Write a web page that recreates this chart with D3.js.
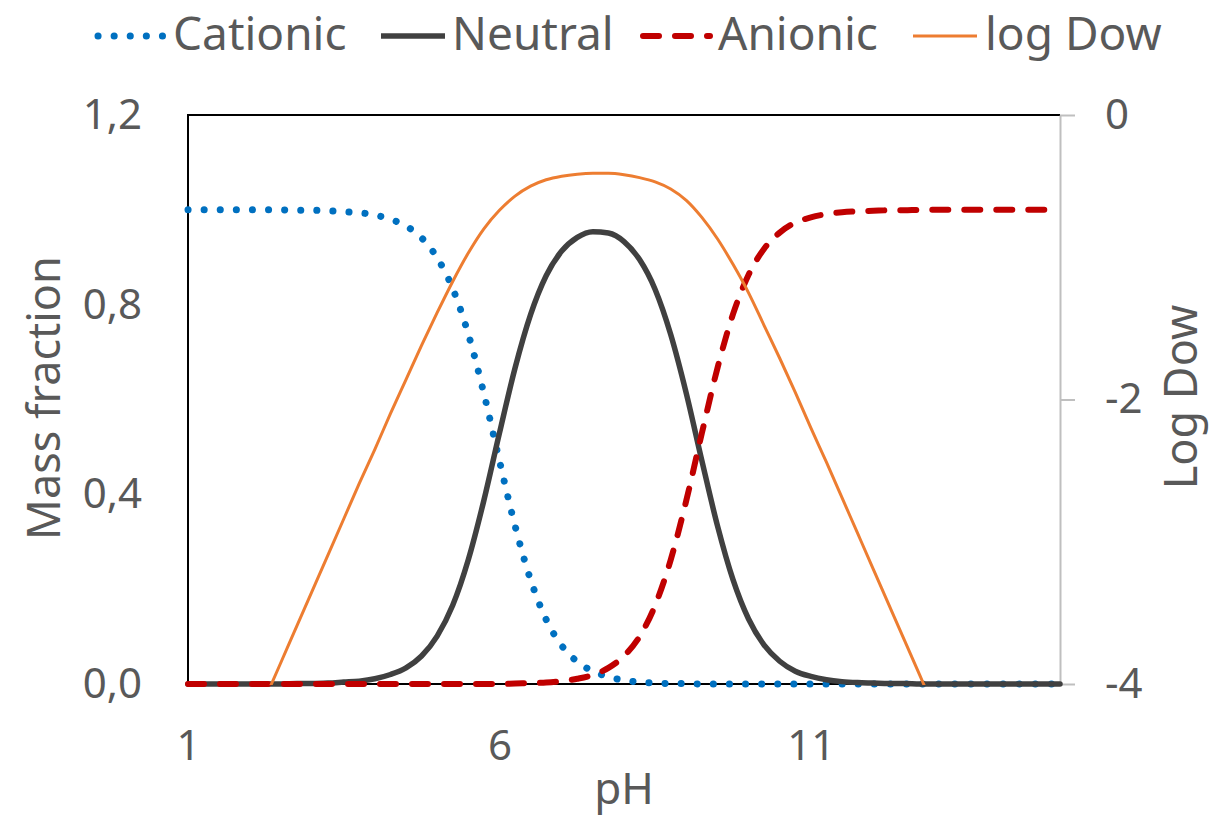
<!DOCTYPE html>
<html>
<head>
<meta charset="utf-8">
<script src="https://cdn.jsdelivr.net/npm/d3@7"></script>
<style>
  body { margin: 0; background: #fff; }
  text { font-family: "Noto Sans", sans-serif; fill: #595959; }
</style>
</head>
<body>
<svg id="chart" width="1212" height="818"></svg>
<script>
// Data (pH 1 to 15 in steps of 0.25)
var pH = [1, 1.25, 1.5, 1.75, 2, 2.25, 2.5, 2.75, 3, 3.25, 3.5, 3.75, 4, 4.25, 4.5, 4.75,
  5, 5.25, 5.5, 5.75, 6, 6.25, 6.5, 6.75, 7, 7.25, 7.5, 7.75, 8, 8.25, 8.5, 8.75,
  9, 9.25, 9.5, 9.75, 10, 10.25, 10.5, 10.75, 11, 11.25, 11.5, 11.75, 12, 12.25, 12.5, 12.75,
  13, 13.25, 13.5, 13.75, 14, 14.25, 14.5, 14.75, 15];

var cationic = [1, 1, 1, 1, 1, 1, 1, 0.999, 0.999, 0.998, 0.996, 0.994, 0.989, 0.980, 0.966, 0.941,
  0.899, 0.834, 0.738, 0.613, 0.471, 0.334, 0.220, 0.136, 0.081, 0.047, 0.027, 0.015, 0.008, 0.004, 0.002, 0.001,
  0.001, 0, 0, 0, 0, 0, 0, 0, 0, 0, 0, 0, 0, 0, 0, 0,
  0, 0, 0, 0, 0, 0, 0, 0, 0];

var neutral = [0, 0, 0, 0, 0, 0, 0, 0.001, 0.001, 0.002, 0.004, 0.006, 0.011, 0.020, 0.034, 0.059,
  0.101, 0.166, 0.262, 0.387, 0.529, 0.666, 0.779, 0.861, 0.913, 0.942, 0.954, 0.951, 0.933, 0.895, 0.832, 0.737,
  0.613, 0.471, 0.334, 0.220, 0.137, 0.082, 0.048, 0.027, 0.016, 0.009, 0.005, 0.003, 0.002, 0.001, 0.001, 0,
  0, 0, 0, 0, 0, 0, 0, 0, 0];

var anionic = [0, 0, 0, 0, 0, 0, 0, 0, 0, 0, 0, 0, 0, 0, 0, 0,
  0, 0, 0, 0, 0, 0.001, 0.002, 0.003, 0.006, 0.011, 0.019, 0.034, 0.059, 0.100, 0.166, 0.262,
  0.387, 0.529, 0.666, 0.780, 0.863, 0.918, 0.952, 0.973, 0.984, 0.991, 0.995, 0.997, 0.998, 0.999, 0.999, 1,
  1, 1, 1, 1, 1, 1, 1, 1, 1];

var logDow = [-5.34, -5.09, -4.84, -4.59, -4.34, -4.09, -3.84, -3.59, -3.34, -3.09, -2.84, -2.59, -2.35, -2.10, -1.86, -1.62,
  -1.39, -1.17, -0.97, -0.80, -0.67, -0.57, -0.50, -0.455, -0.43, -0.416, -0.41, -0.41, -0.42, -0.44, -0.47, -0.52,
  -0.60, -0.72, -0.87, -1.05, -1.25, -1.48, -1.71, -1.95, -2.20, -2.44, -2.69, -2.94, -3.19, -3.44, -3.69, -3.94,
  -4.19, -4.44, -4.69, -4.94, -5.19, -5.44, -5.69, -5.94, -6.19];

// Ticks
var xTicks = [1, 6, 11];
var leftTicks = [0, 0.4, 0.8, 1.2];
var rightTicks = [-4, -2, 0];

// Series styles
var series = [
  { name: "Cationic", values: cationic, axis: "left", color: "#0070c0", width: 7, dash: "0.1 16" },
  { name: "Neutral", values: neutral, axis: "left", color: "#404040", width: 5.5, dash: null },
  { name: "Anionic", values: anionic, axis: "left", color: "#c00000", width: 6, dash: "16 16" },
  { name: "log Dow", values: logDow, axis: "right", color: "#ed7d31", width: 3, dash: null }
];

// Plot area
var p = { left: 188, right: 1060, top: 115, bottom: 684 };

var x = d3.scaleLinear().domain([1, 15]).range([p.left, p.right]);
var yL = d3.scaleLinear().domain([0, 1.2]).range([p.bottom, p.top]);
var yR = d3.scaleLinear().domain([-4, 0]).range([p.bottom, p.top]);

var svg = d3.select("#chart");

function comma(d) { return d3.format(".1f")(d).replace(".", ","); }
function plain(d) { return String(d); }

// Clip for the secondary series
svg.append("clipPath")
  .attr("id", "clipR")
  .append("rect")
  .attr("x", p.left)
  .attr("y", p.top)
  .attr("width", p.right - p.left)
  .attr("height", p.bottom - p.top + 1)
  ;

// Plot border (left, top, bottom in black)
svg.append("path")
  .attr("d", "M" + p.right + "," + p.top + "H" + p.left + "V" + p.bottom + "H" + (p.right + 2))
  .style("fill", "none")
  .style("stroke", "#000")
  .style("stroke-width", 2)
  ;

// Left axis
var gL = svg.append("g")
  .attr("transform", "translate(" + p.left + ",0)")
  .call(d3.axisLeft(yL).tickValues(leftTicks).tickFormat(comma).tickSize(0).tickPadding(46));
gL.select(".domain").remove();

// Bottom axis
var gB = svg.append("g")
  .attr("transform", "translate(0," + p.bottom + ")")
  .call(d3.axisBottom(x).tickValues(xTicks).tickFormat(plain).tickSize(0).tickPadding(46));
gB.select(".domain").remove();

// Right axis (gray)
var gR = svg.append("g")
  .attr("transform", "translate(" + p.right + ",0)")
  .call(d3.axisRight(yR).tickValues(rightTicks).tickFormat(plain).tickSizeInner(15).tickSizeOuter(0).tickPadding(30));
gR.select(".domain").style("stroke", "#bfbfbf").style("stroke-width", 2);
gR.selectAll(".tick line").style("stroke", "#bfbfbf").style("stroke-width", 2);
gR.selectAll(".tick text").attr("text-anchor", "start");

svg.selectAll(".tick text")
  .style("font-family", "'Noto Sans', sans-serif")
  .style("font-size", "42px")
  .style("fill", "#595959")
  ;

// Series
series.forEach(function(s) {
  var y = s.axis == "left" ? yL : yR;
  var line = d3.line()
    .x(function(d, i) { return x(pH[i]); })
    .y(function(d) { return y(d); })
    .curve(d3.curveMonotoneX);

  var path = svg.append("path")
    .datum(s.values)
    .attr("d", line)
    .style("fill", "none")
    .style("stroke", s.color)
    .style("stroke-width", s.width)
    .style("stroke-linecap", "round")
    .style("stroke-linejoin", "round")
    ;
  if (s.dash) path.style("stroke-dasharray", s.dash);
  if (s.axis == "right") path.attr("clip-path", "url(#clipR)");
});

// Axis titles
svg.append("text")
  .attr("transform", "translate(60,398) rotate(-90)")
  .attr("text-anchor", "middle")
  .style("font-size", "45px")
  .text("Mass fraction")
  ;

svg.append("text")
  .attr("transform", "translate(1197,397) rotate(-90)")
  .attr("text-anchor", "middle")
  .style("font-size", "45px")
  .text("Log Dow")
  ;

svg.append("text")
  .attr("x", (p.left + p.right) / 2)
  .attr("y", 804)
  .attr("text-anchor", "middle")
  .style("font-size", "44px")
  .text("pH")
  ;

// Legend
var legendX = [95, 378, 640, 910];
var legend = svg.selectAll("g.legend")
  .data(series)
  .enter().append("g")
  .attr("class", "legend")
  .attr("transform", function(d, i) { return "translate(" + legendX[i] + ",0)"; })
  ;

legend.append("line")
  .attr("x1", 3)
  .attr("x2", function(d) { return d.dash ? 70 : 67; })
  .attr("y1", 36)
  .attr("y2", 36)
  .style("stroke", function(d) { return d.color; })
  .style("stroke-width", function(d) { return d.width; })
  .style("stroke-linecap", function(d) { return d.dash ? "round" : "butt"; })
  .style("stroke-dasharray", function(d) { return d.dash; })
  ;

legend.append("text")
  .attr("x", function(d, i) { return [78, 74, 78, 75][i]; })
  .attr("y", 50)
  .style("font-size", "46px")
  .text(function(d) { return d.name; })
  ;
</script>
</body>
</html>
